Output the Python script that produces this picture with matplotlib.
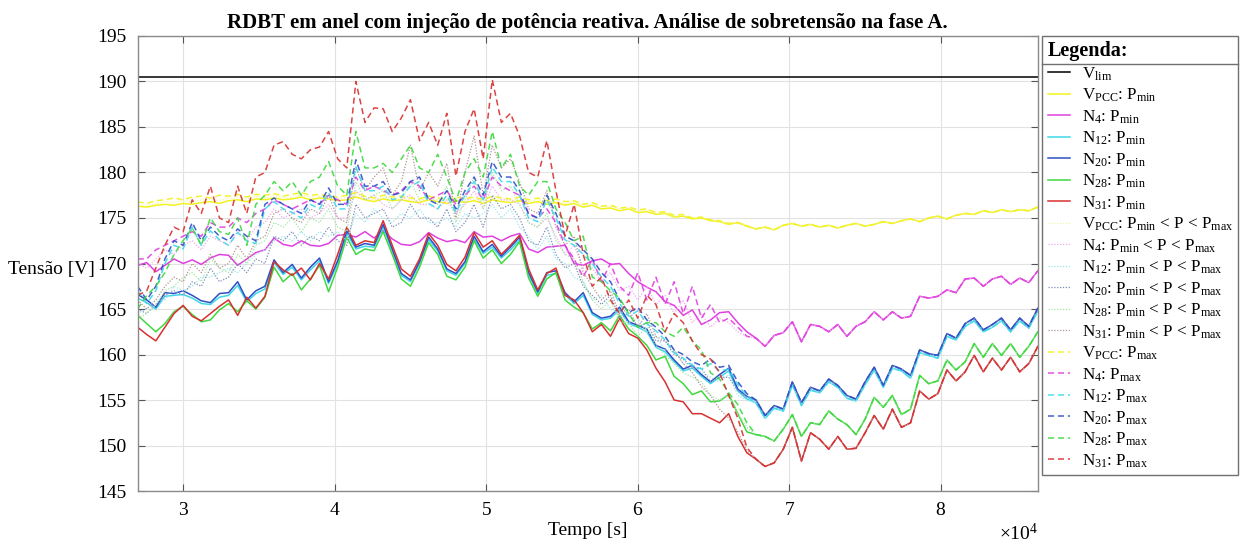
import numpy as np
import matplotlib.pyplot as plt
from matplotlib.ticker import ScalarFormatter, MultipleLocator
from matplotlib.lines import Line2D

plt.rcParams['font.family'] = 'Liberation Serif'
plt.rcParams['mathtext.fontset'] = 'custom'
plt.rcParams['mathtext.rm'] = 'Liberation Serif'
plt.rcParams['mathtext.it'] = 'Liberation Serif:italic'

# amostras a cada 10 min (600 s), das 7h30 ate 24h
t = np.arange(27000, 86401, 600)
v_lim = 190.5

# ---- P_min (linha cheia), 07h30 -> 18h30 ----
vpcc_pmin_dia = [176.3, 176.2, 176.4, 176.5, 176.4, 176.6, 176.5, 176.7, 176.8, 176.6,
                 176.9, 177.0, 176.8, 177.1, 177.0, 177.2, 177.0, 177.1, 177.3, 177.0,
                 177.2, 177.1, 176.9, 177.0, 177.3, 177.0, 176.8, 177.1, 176.9, 177.0,
                 176.8, 176.7, 177.0, 176.8, 176.6, 176.9, 176.7, 176.9, 176.6, 177.0,
                 176.8, 176.7, 176.9, 176.6, 176.8, 176.5, 176.7, 176.4, 176.6, 176.2,
                 176.4, 176.0, 176.1, 175.8, 176.0, 175.6, 175.7, 175.4, 175.5, 175.1,
                 175.2, 174.9, 175.0, 174.7, 174.6, 174.3, 174.5, 174.1]
n4_pmin_dia = [169.8, 170.1, 169.1, 169.8, 170.5, 170.0, 170.4, 169.9, 170.6, 171.0,
               170.9, 169.8, 170.5, 171.2, 171.5, 172.8, 172.1, 171.9, 172.5, 172.0,
               171.9, 172.2, 173.1, 173.2, 172.9, 173.5, 172.8, 173.6, 172.7, 172.1,
               172.0, 172.4, 173.4, 172.8, 172.4, 172.6, 172.3, 173.5, 172.9, 173.0,
               172.5, 173.0, 173.3, 171.6, 171.2, 171.8, 171.9, 172.0, 170.0, 169.8,
               170.3, 170.5, 169.9, 170.0, 168.9, 168.0, 167.4, 166.9, 165.8, 165.4,
               164.3, 164.9, 163.3, 163.8, 164.6, 164.7, 163.5, 162.5]
n12_pmin_dia = [166.2, 165.7, 165.0, 166.4, 166.5, 166.6, 166.2, 165.6, 165.5, 166.3,
                166.5, 167.6, 165.8, 166.7, 167.2, 170.1, 168.8, 169.6, 168.2, 169.3,
                170.3, 167.8, 170.0, 173.3, 171.6, 171.9, 171.8, 174.0, 171.4, 168.7,
                168.0, 170.0, 172.6, 171.4, 169.2, 168.7, 170.0, 172.7, 171.1, 171.8,
                170.6, 171.5, 172.6, 168.8, 166.7, 168.7, 168.9, 166.6, 165.6, 166.5,
                164.4, 163.8, 164.0, 164.9, 163.4, 163.0, 162.5, 160.8, 160.3, 159.2,
                158.2, 158.5, 157.6, 156.8, 157.5, 158.2, 156.0, 155.1]
n20_pmin_dia = [166.6, 166.0, 165.2, 166.8, 166.7, 167.0, 166.5, 165.9, 165.7, 166.7,
                166.8, 168.0, 166.0, 167.0, 167.5, 170.4, 169.0, 169.9, 168.4, 169.6,
                170.6, 168.0, 170.3, 173.6, 171.8, 172.2, 172.0, 174.3, 171.6, 168.9,
                168.2, 170.2, 172.9, 171.6, 169.4, 168.9, 170.2, 173.0, 171.3, 172.1,
                170.8, 171.8, 172.9, 169.0, 166.9, 169.0, 169.2, 166.8, 165.8, 166.8,
                164.6, 164.0, 164.2, 165.2, 163.6, 163.2, 162.8, 161.0, 160.6, 159.4,
                158.4, 158.8, 157.8, 157.0, 157.8, 158.5, 156.2, 155.4]
n28_pmin_dia = [164.3, 163.4, 162.5, 163.4, 164.7, 165.3, 164.4, 163.6, 163.8, 164.9,
                165.6, 164.7, 165.9, 165.0, 166.3, 169.6, 168.0, 168.9, 167.1, 168.3,
                169.8, 166.9, 169.6, 172.9, 171.0, 171.6, 171.4, 173.5, 171.0, 168.3,
                167.5, 169.6, 172.3, 171.0, 168.6, 168.2, 169.6, 172.5, 170.6, 171.5,
                170.0, 171.0, 172.4, 168.4, 166.4, 168.3, 169.0, 166.0, 165.2, 164.6,
                162.8, 163.5, 162.6, 164.3, 162.8, 162.0, 161.0, 159.4, 159.8, 157.6,
                156.8, 155.6, 156.0, 154.8, 154.9, 155.6, 153.5, 151.5]
n31_pmin_dia = [163.0, 162.2, 161.5, 163.0, 164.5, 165.4, 164.2, 163.7, 164.5, 165.3,
                166.0, 164.3, 166.3, 165.1, 166.4, 170.2, 169.3, 168.7, 169.5, 168.2,
                170.0, 168.3, 171.0, 174.0, 172.0, 172.5, 172.3, 174.7, 172.0, 169.4,
                168.6, 170.5, 173.3, 172.0, 169.9, 169.2, 170.7, 173.4, 171.8, 172.5,
                171.0, 172.0, 173.1, 169.4, 167.1, 168.9, 169.5, 166.5, 166.0, 164.6,
                162.5, 163.3, 162.0, 164.0, 162.3, 161.8, 160.5, 158.5, 157.0, 155.0,
                154.8, 153.5, 153.5, 153.0, 152.5, 153.5, 151.0, 149.2]

# ---- P_min < P < P_max (pontilhado) ----
vpcc_pmed_dia = [176.5, 176.4, 176.6, 176.8, 176.7, 176.9, 176.8, 177.0, 177.1, 176.9,
                 177.2, 177.3, 177.1, 177.4, 177.2, 177.5, 177.2, 177.3, 177.5, 177.3,
                 177.4, 177.2, 177.1, 177.3, 177.5, 177.2, 177.0, 177.3, 177.1, 177.2,
                 177.0, 176.9, 177.2, 177.0, 176.8, 177.1, 176.9, 177.1, 176.8, 177.2,
                 177.0, 176.9, 177.1, 176.8, 177.0, 176.7, 176.9, 176.6, 176.8, 176.4,
                 176.6, 176.2, 176.3, 176.0, 176.1, 175.8, 175.9, 175.5, 175.6, 175.2,
                 175.3, 175.0, 175.1, 174.8, 174.6, 174.4, 174.5, 174.2]
n4_pmed_dia = [170.0, 169.5, 170.5, 171.5, 171.0, 172.0, 172.5, 171.5, 173.0, 172.5,
               172.0, 173.5, 172.5, 174.0, 174.5, 176.0, 175.0, 175.5, 176.0, 175.0,
               175.5, 176.5, 175.0, 175.0, 178.0, 177.0, 177.5, 176.5, 176.0, 177.0,
               177.5, 176.5, 176.5, 176.0, 177.0, 175.5, 176.5, 178.0, 176.0, 178.5,
               177.0, 177.0, 176.5, 174.5, 174.0, 175.0, 173.0, 171.0, 172.0, 169.5,
               169.5, 168.0, 169.0, 167.0, 167.5, 166.0, 167.5, 165.5, 166.5, 164.5,
               166.0, 163.5, 164.5, 163.0, 164.0, 163.5, 162.5, 162.0]
n12_pmed_dia = [164.5, 165.0, 166.0, 166.0, 167.5, 167.0, 167.5, 168.5, 168.5, 169.0,
                169.5, 169.0, 170.0, 171.0, 171.5, 172.5, 173.0, 172.5, 173.5, 172.5,
                173.5, 173.0, 173.5, 172.5, 175.5, 174.5, 176.0, 175.0, 174.5, 175.5,
                175.0, 176.0, 174.5, 174.5, 175.0, 174.0, 175.5, 175.0, 175.5, 176.5,
                175.0, 176.0, 174.0, 173.0, 171.5, 173.0, 170.5, 170.0, 168.5, 168.0,
                166.0, 166.5, 165.0, 164.5, 163.5, 164.0, 162.5, 162.0, 160.5, 160.5,
                159.0, 159.0, 158.0, 157.5, 157.0, 157.8, 155.5, 155.0]
n20_pmed_dia = [165.0, 164.5, 165.5, 166.5, 167.0, 166.5, 168.0, 167.5, 169.5, 168.0,
                168.5, 170.0, 169.0, 170.5, 170.0, 173.0, 172.5, 173.5, 172.0, 173.0,
                172.5, 174.0, 172.5, 172.0, 176.5, 175.0, 175.5, 176.0, 174.0, 174.5,
                176.5, 175.0, 175.0, 174.0, 176.0, 173.5, 174.5, 176.5, 174.0, 177.5,
                176.0, 176.5, 175.0, 172.5, 172.0, 174.0, 171.0, 169.5, 170.0, 167.5,
                166.5, 165.5, 166.5, 164.0, 164.5, 163.0, 163.5, 161.5, 161.5, 160.0,
                159.5, 158.5, 158.5, 157.0, 157.5, 157.5, 156.0, 155.3]
n28_pmed_dia = [164.0, 164.5, 165.5, 167.0, 167.5, 168.5, 169.0, 168.0, 170.5, 169.5,
                169.0, 171.0, 170.0, 172.0, 172.5, 174.5, 174.0, 175.0, 173.5, 175.0,
                174.5, 176.0, 174.0, 173.5, 179.0, 177.0, 177.5, 178.0, 176.0, 177.0,
                179.0, 177.0, 177.5, 176.5, 178.5, 174.5, 177.0, 179.5, 176.0, 180.0,
                178.0, 178.5, 176.5, 174.5, 174.0, 175.5, 172.5, 171.0, 170.5, 168.0,
                166.0, 165.0, 166.0, 163.5, 163.5, 162.0, 163.0, 161.0, 160.0, 159.0,
                158.0, 157.5, 157.0, 155.5, 155.0, 155.5, 153.5, 152.0]
n31_pmed_dia = [166.0, 165.0, 166.0, 167.5, 168.5, 168.0, 170.0, 169.0, 171.0, 169.5,
                170.0, 172.0, 170.5, 172.5, 173.0, 175.5, 176.0, 175.0, 174.5, 176.0,
                175.5, 177.5, 175.0, 174.5, 180.5, 178.0, 179.5, 180.5, 177.5, 179.0,
                183.0, 178.0, 180.0, 178.5, 181.0, 175.0, 180.0, 184.0, 177.5, 183.0,
                180.5, 181.5, 179.0, 176.0, 175.5, 178.0, 174.0, 172.0, 173.0, 169.0,
                167.5, 166.0, 167.0, 164.5, 165.0, 163.0, 164.5, 162.0, 161.5, 160.5,
                159.0, 158.0, 156.5, 155.5, 154.0, 153.0, 151.5, 149.5]

# ---- P_max (tracejado) ----
vpcc_pmax_dia = [176.8, 176.6, 176.9, 177.0, 177.2, 177.0, 177.3, 177.4, 177.2, 177.5,
                 177.4, 177.6, 177.3, 177.6, 177.5, 177.7, 177.4, 177.6, 177.8, 177.5,
                 177.6, 177.4, 177.3, 177.5, 177.8, 177.4, 177.2, 177.5, 177.3, 177.4,
                 177.2, 177.1, 177.4, 177.2, 177.0, 177.3, 177.1, 177.3, 177.0, 177.4,
                 177.2, 177.1, 177.3, 177.0, 177.2, 176.9, 177.1, 176.8, 176.9, 176.5,
                 176.7, 176.3, 176.4, 176.1, 176.2, 175.9, 176.0, 175.6, 175.7, 175.3,
                 175.4, 175.0, 175.1, 174.8, 174.7, 174.4, 174.5, 174.1]
n4_pmax_dia = [170.5, 170.5, 171.5, 172.0, 172.5, 173.0, 173.5, 173.0, 174.5, 174.0,
               174.0, 175.0, 174.5, 175.5, 176.0, 177.0, 176.5, 176.0, 176.5, 177.0,
               176.5, 177.5, 177.0, 176.5, 179.5, 178.0, 178.5, 178.0, 177.5, 178.0,
               179.0, 178.5, 177.0, 177.5, 178.0, 176.5, 177.5, 178.5, 177.0, 179.5,
               178.5, 178.0, 177.5, 175.5, 175.0, 176.0, 174.5, 172.0, 170.5, 168.5,
               170.5, 168.0, 170.0, 167.5, 166.5, 169.0, 166.0, 168.5, 165.5, 168.0,
               164.5, 167.5, 164.0, 165.5, 163.5, 164.0, 163.0, 162.0]
n12_pmax_dia = [167.0, 165.6, 167.0, 170.0, 172.0, 171.6, 174.0, 172.0, 173.6, 172.6,
                172.0, 173.4, 172.5, 172.2, 176.0, 176.8, 176.0, 175.6, 175.0, 176.5,
                176.0, 177.8, 176.0, 176.0, 180.6, 178.0, 178.0, 178.5, 177.0, 177.3,
                178.5, 179.0, 176.6, 176.0, 177.5, 175.6, 177.5, 179.0, 177.0, 180.6,
                179.0, 179.0, 177.5, 175.0, 174.6, 177.0, 175.0, 172.6, 172.0, 171.0,
                170.0, 168.5, 167.5, 165.6, 164.2, 164.8, 163.4, 162.6, 161.6, 160.2,
                159.6, 158.8, 158.4, 159.0, 158.2, 158.4, 156.7, 155.4]
n20_pmax_dia = [167.5, 166.0, 167.5, 170.5, 172.5, 172.0, 174.5, 172.5, 174.0, 173.0,
                172.5, 173.8, 173.0, 172.5, 176.5, 177.2, 176.5, 176.0, 175.5, 177.0,
                176.5, 178.3, 176.5, 176.5, 181.4, 178.5, 178.5, 179.0, 177.5, 177.8,
                179.0, 179.5, 177.0, 176.5, 178.0, 176.0, 178.0, 179.5, 177.5, 181.2,
                179.5, 179.5, 178.0, 175.4, 175.0, 177.5, 175.5, 173.0, 172.5, 171.5,
                170.5, 169.0, 168.0, 166.0, 164.6, 165.2, 163.8, 163.0, 162.0, 160.5,
                160.0, 159.2, 158.8, 159.5, 158.6, 158.8, 157.0, 155.7]
n28_pmax_dia = [165.0, 166.5, 167.5, 169.0, 171.0, 172.5, 173.9, 172.0, 175.0, 173.5,
                173.2, 175.0, 172.0, 176.5, 177.5, 179.0, 178.0, 179.0, 177.5, 179.0,
                179.5, 181.2, 178.5, 177.5, 184.5, 180.5, 180.5, 181.0, 180.0, 181.5,
                183.0, 180.5, 180.0, 182.0, 179.5, 176.8, 180.0, 181.5, 179.5, 184.5,
                180.5, 182.0, 178.5, 177.5, 179.0, 179.0, 176.0, 174.5, 172.5, 173.0,
                168.5, 168.0, 167.0, 166.2, 164.5, 163.0, 163.5, 163.5, 162.5, 162.0,
                163.0, 161.5, 160.5, 158.0, 157.3, 155.8, 154.5, 152.5]
n31_pmax_dia = [166.5, 167.0, 169.5, 172.0, 174.0, 173.5, 177.0, 175.5, 178.5, 175.0,
                174.5, 178.5, 175.5, 179.5, 180.0, 183.0, 183.4, 182.0, 181.5, 182.5,
                182.8, 184.5, 181.5, 180.5, 190.0, 185.5, 187.1, 187.0, 184.5, 186.0,
                188.0, 183.5, 185.5, 183.0, 186.5, 179.6, 184.5, 187.0, 181.5, 190.2,
                185.5, 186.5, 184.0, 180.0, 179.5, 183.5, 178.0, 173.0, 176.5, 171.0,
                167.5, 168.5, 166.0, 164.5, 166.0, 164.0, 166.5, 165.5, 162.5, 164.5,
                163.5, 161.5, 160.0, 159.5, 158.0, 155.5, 153.0, 149.8]

# ---- noite (18h20 -> 24h): sem geracao, os tres casos coincidem ----
vpcc_noite = [173.8, 174.0, 173.7, 174.2, 174.4, 174.1, 174.3, 174.0, 174.2, 173.9,
              174.2, 174.4, 174.1, 174.3, 174.6, 174.4, 174.7, 174.9, 174.6, 175.0,
              175.2, 174.9, 175.3, 175.5, 175.4, 175.8, 175.6, 175.9, 175.7, 175.9,
              175.8, 176.2]
n4_noite = [161.8, 160.9, 162.1, 162.4, 163.6, 161.4, 163.3, 163.1, 162.5, 163.3,
            162.0, 163.1, 163.6, 164.7, 163.8, 164.7, 164.0, 164.2, 166.4, 166.2,
            166.4, 167.1, 166.8, 168.3, 168.4, 167.5, 168.3, 168.6, 167.7, 168.4,
            167.9, 169.2]
n12_noite = [154.7, 153.0, 154.1, 153.8, 156.7, 154.4, 156.1, 155.8, 157.0, 156.4,
             155.2, 154.9, 156.7, 158.3, 156.4, 158.5, 158.2, 157.4, 160.2, 159.9,
             159.6, 162.0, 161.6, 163.1, 163.7, 162.5, 163.0, 163.7, 162.5, 163.7,
             162.9, 164.8]
n20_noite = [155.0, 153.3, 154.4, 154.0, 157.0, 154.7, 156.4, 156.0, 157.3, 156.6,
             155.5, 155.1, 157.0, 158.6, 156.6, 158.8, 158.4, 157.7, 160.5, 160.1,
             159.9, 162.3, 161.8, 163.4, 164.0, 162.7, 163.3, 164.0, 162.7, 164.0,
             163.1, 165.1]
n28_noite = [151.2, 151.0, 150.5, 151.8, 153.4, 151.0, 152.5, 152.3, 153.8, 152.9,
             152.3, 151.2, 152.9, 155.3, 154.2, 155.5, 153.4, 154.0, 157.7, 156.8,
             157.1, 159.4, 158.3, 159.2, 161.2, 159.7, 161.2, 159.9, 161.2, 159.7,
             160.9, 162.5]
n31_noite = [148.5, 147.7, 148.1, 149.6, 152.0, 148.3, 151.4, 150.7, 149.6, 151.0,
             149.6, 149.7, 151.4, 153.3, 151.8, 154.0, 152.0, 152.5, 156.0, 155.1,
             155.7, 158.3, 157.1, 158.1, 159.9, 158.1, 159.6, 158.3, 159.7, 158.1,
             159.0, 160.9]

nos = ['V$_{\\mathrm{PCC}}$', 'N$_{4}$', 'N$_{12}$', 'N$_{20}$', 'N$_{28}$', 'N$_{31}$']
cores = ['#f2f21e', '#e040e0', '#3fd8e8', '#2f4fc8', '#3fd83f', '#d83030']
cores_pont = ['#f4f4a8', '#eeaaee', '#9fe4ee', '#7f8fb8', '#a2e6a2', '#b49494']

pmin = [vpcc_pmin_dia, n4_pmin_dia, n12_pmin_dia, n20_pmin_dia, n28_pmin_dia, n31_pmin_dia]
pmed = [vpcc_pmed_dia, n4_pmed_dia, n12_pmed_dia, n20_pmed_dia, n28_pmed_dia, n31_pmed_dia]
pmax = [vpcc_pmax_dia, n4_pmax_dia, n12_pmax_dia, n20_pmax_dia, n28_pmax_dia, n31_pmax_dia]
noite = [vpcc_noite, n4_noite, n12_noite, n20_noite, n28_noite, n31_noite]

fig = plt.figure(figsize=(12.4, 5.45), dpi=100)
ax = fig.add_axes([0.111, 0.099, 0.726, 0.835])

ax.plot(t, np.full(t.size, v_lim), color='k', lw=1.1, label='V$_{\\mathrm{lim}}$')

for no, c, dia, ns in zip(nos, cores, pmin, noite):
    ax.plot(t, dia + ns, color=c, lw=1.1, label=no + ': P$_{\\mathrm{min}}$')
for no, c, dia, ns in zip(nos, cores_pont, pmed, noite):
    ax.plot(t, dia + ns, color=c, lw=0.9, ls=(0, (1, 1.3)),
            label=no + ': P$_{\\mathrm{min}}$ < P < P$_{\\mathrm{max}}$')
for no, c, dia, ns in zip(nos, cores, pmax, noite):
    ax.plot(t, dia + ns, color=c, lw=1.1, ls=(0, (4, 2.5)), alpha=0.9,
            label=no + ': P$_{\\mathrm{max}}$')

ax.set_xlim(27000, 86400)
ax.set_ylim(145, 195)
ax.xaxis.set_major_locator(MultipleLocator(10000))
ax.yaxis.set_major_locator(MultipleLocator(5))
fmt = ScalarFormatter(useMathText=True)
fmt.set_powerlimits((0, 0))
ax.xaxis.set_major_formatter(fmt)
ax.xaxis.get_offset_text().set_fontsize(14)

ax.grid(True, color='#e2e2e2', lw=0.8)
ax.set_axisbelow(True)
ax.tick_params(direction='in', top=True, right=True, length=5, labelsize=14,
               color='#555555', pad=8)
for s in ax.spines.values():
    s.set_color('#8a8a8a')
    s.set_linewidth(1.0)

ax.set_title('RDBT em anel com injeção de potência reativa. Análise de sobretensão na fase A.',
             fontsize=15, fontweight='bold', pad=6)
ax.set_xlabel('Tempo [s]', fontsize=14, labelpad=2)
ax.set_ylabel('Tensão [V]', fontsize=14, rotation=0, ha='right', va='center')
ax.yaxis.set_label_coords(-0.047, 0.486)

leg = ax.legend(loc='upper left', bbox_to_anchor=(1.005, 1.0), borderaxespad=0,
                fontsize=12.3, title='Legenda:', alignment='left',
                title_fontproperties={'weight': 'bold', 'size': 14.5},
                fancybox=False, edgecolor='#707070', framealpha=1,
                handlelength=1.3, handletextpad=0.7, labelspacing=0.24,
                borderpad=0.3)
leg.get_frame().set_linewidth(1.0)

# linha separando o titulo da legenda
fig.canvas.draw()
r = fig.canvas.get_renderer()
bb = leg.get_window_extent(r)
tb = leg.get_title().get_window_extent(r)
W, H = fig.bbox.width, fig.bbox.height
y_sep = (tb.y0 - 3) / H
fig.add_artist(Line2D([bb.x0 / W, bb.x1 / W], [y_sep, y_sep], color='#707070', lw=1.0))

fig.savefig('out.png', dpi=100)
